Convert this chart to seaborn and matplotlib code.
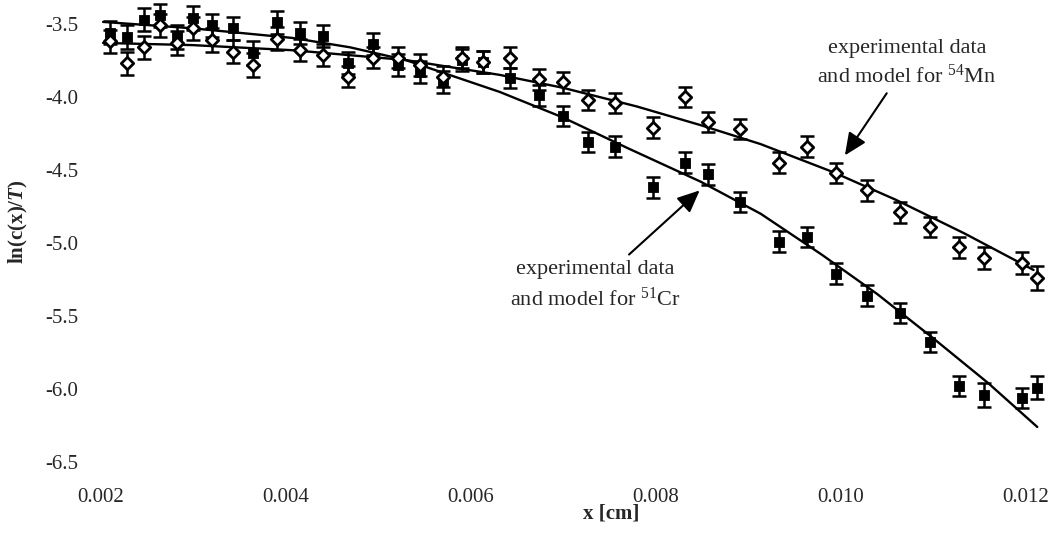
import matplotlib
matplotlib.use("Agg")
import matplotlib.pyplot as plt
import seaborn as sns
import pandas as pd

# measured depth profiles (same x positions for both nuclides)
x_cm = [0.00210, 0.00229, 0.00247, 0.00265, 0.00283, 0.00300, 0.00321, 0.00343, 0.00365, 0.00391,
        0.00416, 0.00441, 0.00468, 0.00495, 0.00522, 0.00546, 0.00570, 0.00591, 0.00614, 0.00643,
        0.00674, 0.00700, 0.00727, 0.00757, 0.00798, 0.00832, 0.00857, 0.00892, 0.00934, 0.00964,
        0.00995, 0.01029, 0.01065, 0.01097, 0.01128, 0.01155, 0.01197, 0.01213]

mn_ln = [-3.62, -3.77, -3.66, -3.51, -3.63, -3.53, -3.61, -3.69, -3.78, -3.60,
         -3.68, -3.71, -3.86, -3.73, -3.73, -3.78, -3.86, -3.73, -3.76, -3.73,
         -3.88, -3.90, -4.02, -4.04, -4.21, -4.00, -4.17, -4.22, -4.45, -4.34,
         -4.52, -4.64, -4.79, -4.89, -5.03, -5.10, -5.14, -5.24]
mn_err = [0.08, 0.08, 0.08, 0.08, 0.08, 0.08, 0.08, 0.08, 0.08, 0.08,
          0.075, 0.075, 0.075, 0.075, 0.075, 0.075, 0.075, 0.075, 0.075, 0.07,
          0.07, 0.07, 0.07, 0.07, 0.07, 0.07, 0.07, 0.07, 0.07, 0.07,
          0.07, 0.07, 0.07, 0.07, 0.07, 0.075, 0.075, 0.08]

cr_ln = [-3.56, -3.59, -3.47, -3.44, -3.59, -3.46, -3.51, -3.53, -3.70, -3.49,
         -3.56, -3.58, -3.77, -3.64, -3.78, -3.83, -3.90, -3.75, -3.76, -3.87,
         -3.99, -4.13, -4.31, -4.34, -4.62, -4.45, -4.53, -4.72, -4.99, -4.96,
         -5.21, -5.36, -5.48, -5.68, -5.98, -6.04, -6.06, -5.99]
cr_err = [0.08, 0.08, 0.08, 0.08, 0.08, 0.08, 0.08, 0.08, 0.08, 0.08,
          0.075, 0.075, 0.075, 0.075, 0.075, 0.075, 0.075, 0.075, 0.075, 0.07,
          0.07, 0.07, 0.07, 0.07, 0.07, 0.07, 0.07, 0.07, 0.07, 0.07,
          0.07, 0.07, 0.07, 0.07, 0.07, 0.08, 0.07, 0.08]

# model curves
mn_model_x = [0.00203, 0.00300, 0.00408, 0.00530, 0.00632, 0.00700, 0.00780,
              0.00849, 0.00914, 0.00992, 0.01060, 0.01135, 0.01209]
mn_model_y = [-3.630, -3.645, -3.680, -3.747, -3.849, -3.937, -4.065,
              -4.193, -4.323, -4.514, -4.704, -4.937, -5.185]
cr_model_x = [0.00203, 0.00300, 0.00408, 0.00470, 0.00530, 0.00632, 0.00700, 0.00770,
              0.00849, 0.00914, 0.00980, 0.01040, 0.01100, 0.01160, 0.01213]
cr_model_y = [-3.486, -3.530, -3.596, -3.660, -3.747, -3.966, -4.140, -4.350,
              -4.580, -4.800, -5.080, -5.350, -5.650, -5.960, -6.260]

x_ticks = [0.002, 0.004, 0.006, 0.008, 0.010, 0.012]
y_ticks = [-3.5, -4.0, -4.5, -5.0, -5.5, -6.0, -6.5]

sns.set_style("white")
plt.rcParams['font.family'] = ['Liberation Serif', 'DejaVu Serif']
plt.rcParams['mathtext.fontset'] = 'custom'
plt.rcParams['mathtext.rm'] = 'Liberation Serif'
plt.rcParams['mathtext.it'] = 'Liberation Serif:italic:bold'

df = pd.DataFrame({'x': x_cm, 'mn': mn_ln, 'cr': cr_ln})

fig = plt.figure(figsize=(10.53, 5.47), dpi=100)
ax = fig.add_axes([97.5 / 1053, 85 / 547, 955.5 / 1053, 462 / 547])

sns.lineplot(x=mn_model_x, y=mn_model_y, color='black', lw=1.7, ax=ax, sort=False, estimator=None)
sns.lineplot(x=cr_model_x, y=cr_model_y, color='black', lw=1.7, ax=ax, sort=False, estimator=None)

ax.errorbar(x_cm, cr_ln, yerr=cr_err, fmt='none', ecolor='black', elinewidth=1.8, capsize=4.8, capthick=1.8)
ax.errorbar(x_cm, mn_ln, yerr=mn_err, fmt='none', ecolor='black', elinewidth=1.8, capsize=4.8, capthick=1.8)
sns.scatterplot(data=df, x='x', y='cr', marker='s', s=44, color='black', edgecolor='black', linewidth=0.6, ax=ax, zorder=3)
sns.scatterplot(data=df, x='x', y='mn', marker='D', s=40, facecolor='white', edgecolor='black', linewidth=2.0, ax=ax, zorder=4)

arrow = dict(arrowstyle='-|>,head_length=0.85,head_width=0.38', color='black', lw=1.5,
             mutation_scale=16, shrinkA=2, shrinkB=0)
ax.annotate("experimental data\nand model for $^{54}$Mn", xy=(0.01005, -4.40), xytext=(0.01072, -3.77),
            ha='center', va='center', fontsize=16, linespacing=1.35, arrowprops=arrow)
ax.annotate("experimental data\nand model for $^{51}$Cr", xy=(0.00848, -4.64), xytext=(0.00735, -5.29),
            ha='center', va='center', fontsize=16, linespacing=1.5, arrowprops=arrow)

ax.set_xlim(0.00197, 0.0123)
ax.set_ylim(-6.5, -3.336)
ax.set_xticks(x_ticks)
ax.set_xticklabels([f"{t:.3f}" for t in x_ticks])
ax.set_yticks(y_ticks)
ax.set_yticklabels([f"{t:.1f}" for t in y_ticks])
ax.tick_params(axis='both', length=2, width=0.8, color='#c8c8c8', labelsize=15)
ax.tick_params(axis='y', pad=12)
ax.tick_params(axis='x', pad=17)
for s in ax.spines.values():
    s.set_visible(False)

ax.set_xlabel("x [cm]", fontsize=15, fontweight='bold')
ax.set_ylabel("ln(c(x)/$\\mathit{T}$)", fontsize=15, fontweight='bold')
ax.xaxis.set_label_coords(0.538, -0.09)
ax.yaxis.set_label_coords(-0.071, 0.52)

fig.savefig("out.png", dpi=100)
